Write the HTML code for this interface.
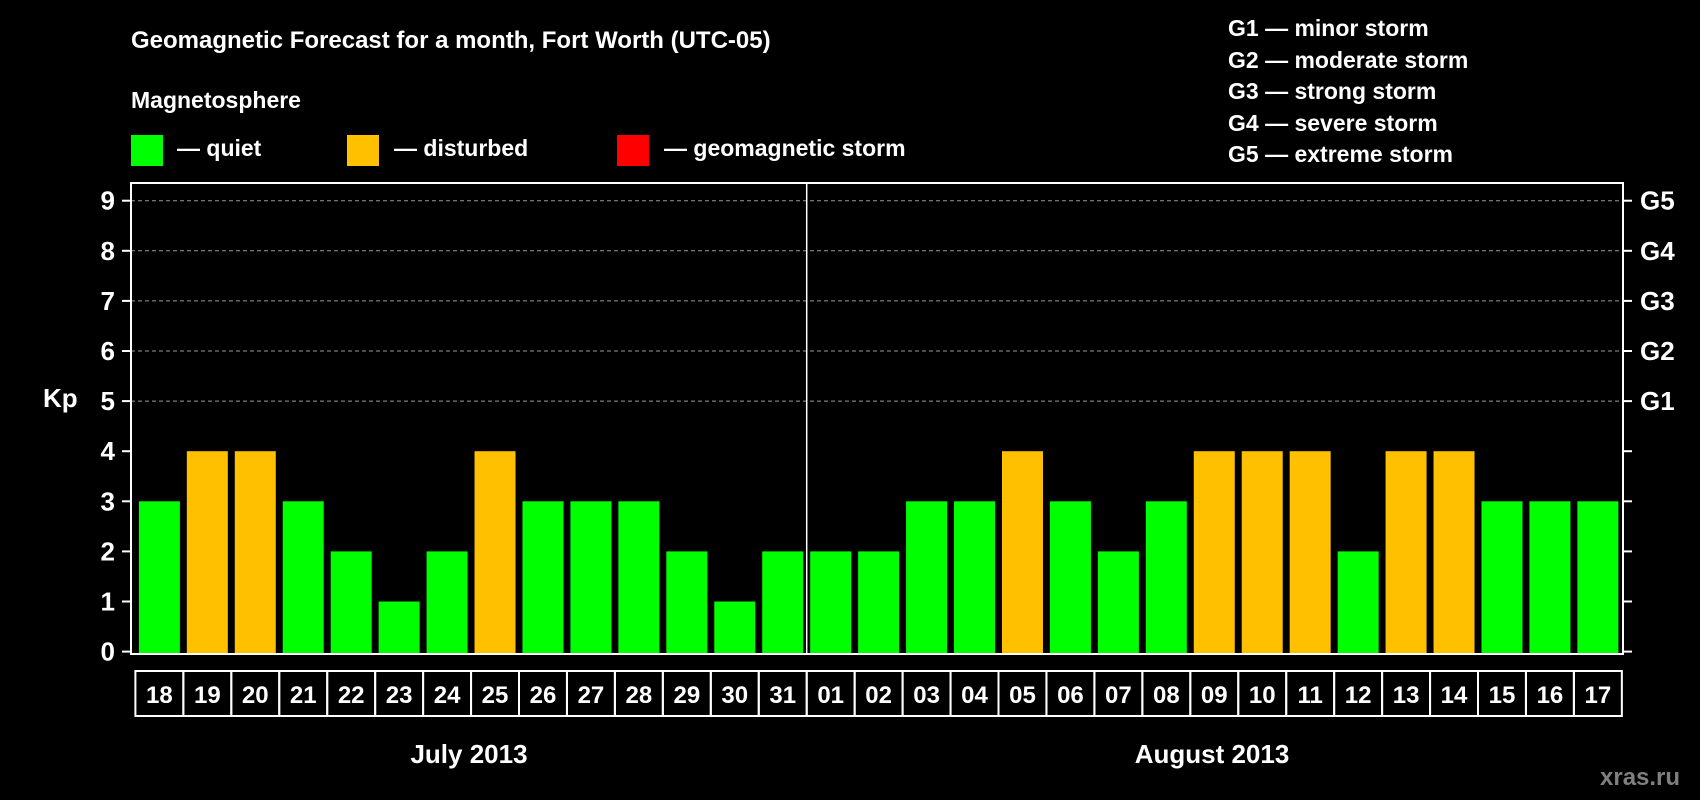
<!DOCTYPE html>
<html><head><meta charset="utf-8"><style>
html,body{margin:0;padding:0;background:#000;}
svg{display:block;font-family:"Liberation Sans",Arial,sans-serif;font-weight:bold;}
</style></head><body>
<svg id="chart" width="1700" height="800" viewBox="0 0 1700 800">
<rect x="0" y="0" width="1700" height="800" fill="#000"/>
<text x="131" y="48" fill="#fff" font-size="24">Geomagnetic Forecast for a month, Fort Worth (UTC-05)</text>
<text x="131" y="108" fill="#fff" font-size="23">Magnetosphere</text>
<rect x="131" y="135" width="32" height="31" fill="#00ff00"/>
<text x="177" y="156" fill="#fff" font-size="23">— quiet</text>
<rect x="347" y="135" width="32" height="31" fill="#ffc000"/>
<text x="394" y="156" fill="#fff" font-size="23">— disturbed</text>
<rect x="617" y="135" width="32" height="31" fill="#ff0000"/>
<text x="664" y="156" fill="#fff" font-size="23">— geomagnetic storm</text>
<g font-size="23" fill="#fff">
<text x="1228" y="36">G1 — minor storm</text>
<text x="1228" y="68">G2 — moderate storm</text>
<text x="1228" y="99">G3 — strong storm</text>
<text x="1228" y="131">G4 — severe storm</text>
<text x="1228" y="162">G5 — extreme storm</text>
</g>
<g id="grid"></g>
<g id="bars"></g>
<g id="axes"></g>
<text x="43" y="407" fill="#fff" font-size="26">Kp</text>
<text x="469" y="763" fill="#fff" font-size="26" text-anchor="middle">July 2013</text>
<text x="1212" y="763" fill="#fff" font-size="26" text-anchor="middle">August 2013</text>
<text x="1600" y="785" fill="#7f7f7f" font-size="24">xras.ru</text>
</svg>
<script>
const days = ["18","19","20","21","22","23","24","25","26","27","28","29","30","31","01","02","03","04","05","06","07","08","09","10","11","12","13","14","15","16","17"];
const kpValues = [3,4,4,3,2,1,2,4,3,3,3,2,1,2,2,2,3,3,4,3,2,3,4,4,4,2,4,4,3,3,3];
const yTicks = [0,1,2,3,4,5,6,7,8,9];
const gLabels = ["G1","G2","G3","G4","G5"];
const NS="http://www.w3.org/2000/svg";
const L=131,R=1623,T=183,B=654,slot0=135.4,slotW=47.95,barW=41;
const y=v=>651.6-v*50.1;
const xc=i=>slot0+slotW*(i+0.5);
function mk(tag,attrs,parent,txt){const e=document.createElementNS(NS,tag);for(const k in attrs)e.setAttribute(k,attrs[k]);if(txt!==undefined)e.textContent=txt;parent.appendChild(e);return e;}
const grid=document.getElementById('grid'),bars=document.getElementById('bars'),axes=document.getElementById('axes');
yTicks.forEach(v=>{
  if(v>=5){const g=mk('line',{x1:L,x2:R,y1:y(v),y2:y(v),stroke:'#999','stroke-dasharray':'4,3','stroke-width':1},grid);
  
  }
  const t=mk('line',{x1:L-9,x2:L,y1:y(v),y2:y(v),stroke:'#fff','stroke-width':2},axes);
  
  
  const t2=mk('line',{x1:R,x2:R+9,y1:y(v),y2:y(v),stroke:'#fff','stroke-width':2},axes);
  
  
  const lb=mk('text',{x:115,y:y(v)+9,fill:'#fff','font-size':26,'text-anchor':'end'},axes,String(v));
  
  
});
gLabels.forEach((g,i)=>{
  const lb=mk('text',{x:1640,y:y(i+5)+9,fill:'#fff','font-size':26},axes,g);
  
  
});
kpValues.forEach((v,i)=>{
  const col=v>=5?'#ff0000':(v>=4?'#ffc000':'#00ff00');
  const r=mk('rect',{x:xc(i)-barW/2,y:y(v),width:barW,height:y(0)-y(v)+2,fill:col},bars);
  
  
  const bx=mk('rect',{x:xc(i)-slotW/2,y:671,width:slotW,height:45,fill:'none',stroke:'#fff','stroke-width':2},axes);
  
  
  const t=mk('text',{x:xc(i),y:703,fill:'#fff','font-size':24,'text-anchor':'middle'},axes,days[i]);
  
  
});
const fr=mk('rect',{x:L,y:T,width:R-L,height:B-T,fill:'none',stroke:'#fff','stroke-width':2},axes);


const div=mk('line',{x1:slot0+slotW*14,x2:slot0+slotW*14,y1:T,y2:B,stroke:'#fff','stroke-width':1.5},axes);


</script>
</body></html>
